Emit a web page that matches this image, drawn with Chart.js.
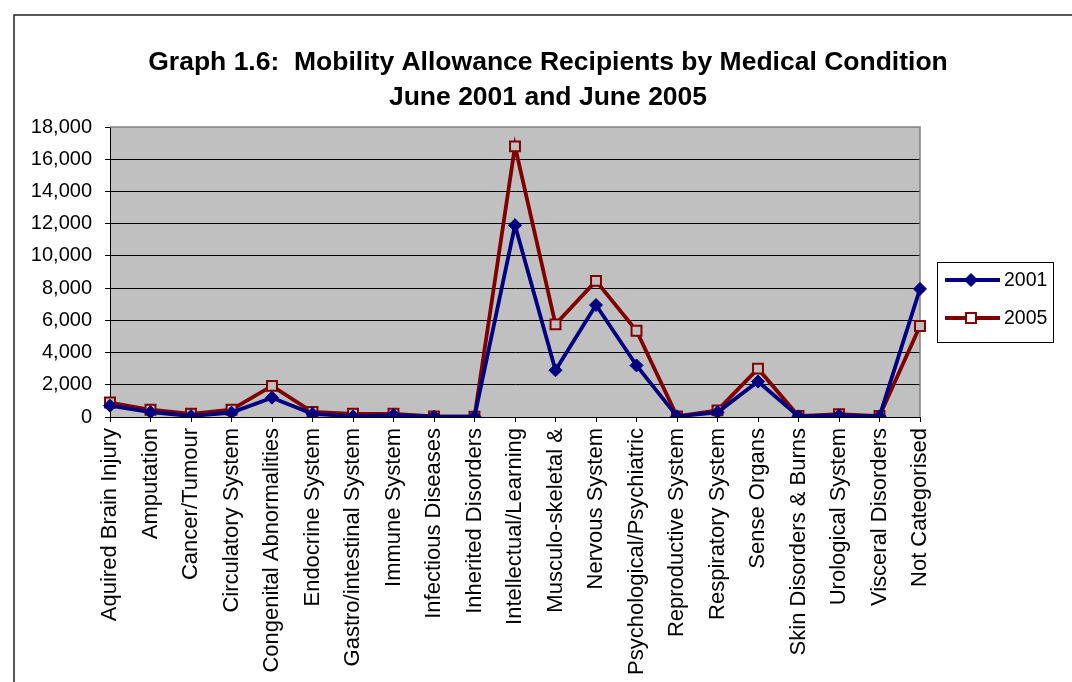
<!DOCTYPE html>
<html>
<head>
<meta charset="utf-8">
<title>Mobility Allowance Recipients by Medical Condition</title>
<script src="https://cdn.jsdelivr.net/npm/chart.js@4/dist/chart.umd.min.js"></script>
<style>
  html, body { margin: 0; padding: 0; background: #ffffff; }
  #wrap { width: 1072px; height: 682px; position: relative; }
  canvas { display: block; }
</style>
</head>
<body>
<div id="wrap"><canvas id="chart" width="1072" height="682"></canvas></div>
<script>
// Medical condition categories
const categories = [
  "Aquired Brain Injury", "Amputation", "Cancer/Tumour", "Circulatory System",
  "Congenital Abnormalities", "Endocrine System", "Gastro/intestinal System",
  "Immune System", "Infectious Diseases", "Inherited Disorders",
  "Intellectual/Learning", "Musculo-skeletal &", "Nervous System",
  "Psychological/Psychiatric", "Reproductive System", "Respiratory System",
  "Sense Organs", "Skin Disorders & Burns", "Urological System",
  "Visceral Disorders", "Not Categorised"
];

// Recipients, June 2001
const recipients2001 = [700, 300, 60, 270, 1200, 200, 40, 120, 20, 20, 11900, 2900, 6950, 3200, 40, 290, 2200, 40, 100, 40, 7950];

// Recipients, June 2005
const recipients2005 = [900, 450, 200, 450, 1930, 310, 200, 200, 40, 20, 16800, 5750, 8450, 5350, 40, 410, 3000, 60, 170, 60, 5650];

const seriesNames = ["2001", "2005"];
const titleLines = [
  "Graph 1.6:  Mobility Allowance Recipients by Medical Condition",
  "June 2001 and June 2005"
];

const FONT = "'Liberation Sans', Arial, Helvetica, sans-serif";
const NAVY = "#000080";
const MAROON = "#800000";
const PLOT_BG = "#C0C0C0";

// Grey plot area, outer frame, title and legend box
const decorations = {
  id: "decorations",
  beforeDraw(chart) {
    const { ctx, chartArea: a } = chart;
    ctx.save();
    ctx.fillStyle = "#ffffff";
    ctx.fillRect(0, 0, chart.width, chart.height);
    ctx.fillStyle = PLOT_BG;
    ctx.fillRect(a.left, a.top, a.right - a.left, a.bottom - a.top);
    // outer frame
    ctx.strokeStyle = "#222222";
    ctx.lineWidth = 1.5;
    ctx.beginPath();
    ctx.moveTo(14, chart.height + 5);
    ctx.lineTo(14, 15);
    ctx.lineTo(chart.width + 5, 15);
    ctx.stroke();
    ctx.restore();
  },
  beforeDatasetsDraw(chart) {
    const { ctx, chartArea: a } = chart;
    ctx.save();
    ctx.strokeStyle = "#808080";
    ctx.lineWidth = 1.5;
    ctx.beginPath();
    ctx.moveTo(a.left, a.top);
    ctx.lineTo(a.right, a.top);
    ctx.lineTo(a.right, a.bottom);
    ctx.stroke();
    ctx.restore();
  },
  afterDraw(chart) {
    const { ctx } = chart;
    ctx.save();
    // title
    ctx.fillStyle = "#000";
    ctx.textAlign = "center";
    ctx.textBaseline = "alphabetic";
    ctx.font = "bold 26.5px " + FONT;
    ctx.fillText(titleLines[0], 548, 70);
    ctx.fillText(titleLines[1], 548, 105);

    // legend
    const bx = 937, by = 262, bw = 116, bh = 80;
    ctx.fillStyle = "#ffffff";
    ctx.fillRect(bx, by, bw, bh);
    ctx.strokeStyle = "#000";
    ctx.lineWidth = 1;
    ctx.strokeRect(bx + 0.5, by + 0.5, bw, bh);
    const rows = [280, 318];
    chart.data.datasets.forEach((ds, i) => {
      const y = rows[i];
      ctx.strokeStyle = ds.borderColor;
      ctx.lineWidth = ds.borderWidth;
      ctx.beginPath();
      ctx.moveTo(945, y);
      ctx.lineTo(1000, y);
      ctx.stroke();
      ctx.fillStyle = i === 0 ? ds.pointBackgroundColor : "#ffffff";
      ctx.strokeStyle = ds.pointBorderColor;
      ctx.lineWidth = ds.pointBorderWidth;
      ctx.beginPath();
      if (ds.pointStyle === "rect") {
        const s = Math.SQRT1_2 * ds.pointRadius;
        ctx.rect(971 - s, y - s, 2 * s, 2 * s);
      } else {
        const r = ds.pointRadius;
        ctx.moveTo(971 - r, y);
        ctx.lineTo(971, y - r);
        ctx.lineTo(971 + r, y);
        ctx.lineTo(971, y + r);
        ctx.closePath();
      }
      ctx.fill();
      ctx.stroke();
      ctx.fillStyle = "#000";
      ctx.textAlign = "left";
      ctx.textBaseline = "middle";
      ctx.font = "19.5px " + FONT;
      ctx.fillText(seriesNames[i], 1004, y + 1);
    });
    ctx.restore();
  }
};

new Chart(document.getElementById("chart"), {
  type: "line",
  data: {
    labels: categories,
    datasets: [
      {
        label: seriesNames[0],
        data: recipients2001,
        borderColor: NAVY,
        borderWidth: 3.8,
        pointStyle: "rectRot",
        pointRadius: 6.5,
        pointBackgroundColor: NAVY,
        pointBorderColor: NAVY,
        pointBorderWidth: 1,
        tension: 0,
        fill: false
      },
      {
        label: seriesNames[1],
        data: recipients2005,
        borderColor: MAROON,
        borderWidth: 3.8,
        pointStyle: "rect",
        pointRadius: 7,
        pointBackgroundColor: PLOT_BG,
        pointBorderColor: MAROON,
        pointBorderWidth: 2,
        tension: 0,
        fill: false
      }
    ]
  },
  options: {
    responsive: false,
    animation: false,
    devicePixelRatio: 1,
    layout: { padding: { left: 0, right: 152, top: 127, bottom: 0 } },
    plugins: {
      legend: { display: false },
      title: { display: false },
      tooltip: { enabled: false }
    },
    scales: {
      x: {
        type: "category",
        offset: false,
        grid: {
          drawOnChartArea: false,
          drawTicks: true,
          tickLength: 5,
          color: "#000",
          tickColor: "#000"
        },
        border: { color: "#000", width: 1 },
        ticks: {
          autoSkip: false,
          minRotation: 90,
          maxRotation: 90,
          padding: 6,
          color: "#000",
          font: { family: FONT, size: 22 }
        },
        afterFit(scale) { scale.height = 265; }
      },
      y: {
        min: 0,
        max: 18000,
        grid: {
          color: (c) => (c.tick && c.tick.value === 18000 ? "rgba(0,0,0,0)" : "#000"),
          tickColor: "#000",
          tickLength: 5,
          lineWidth: 1
        },
        border: { color: "#000", width: 1 },
        ticks: {
          stepSize: 2000,
          padding: 13,
          color: "#000",
          font: { family: FONT, size: 20 },
          callback: (v) => Number(v).toLocaleString("en-US")
        },
        afterFit(scale) { scale.width = 110; }
      }
    }
  },
  plugins: [decorations]
});
</script>
</body>
</html>
